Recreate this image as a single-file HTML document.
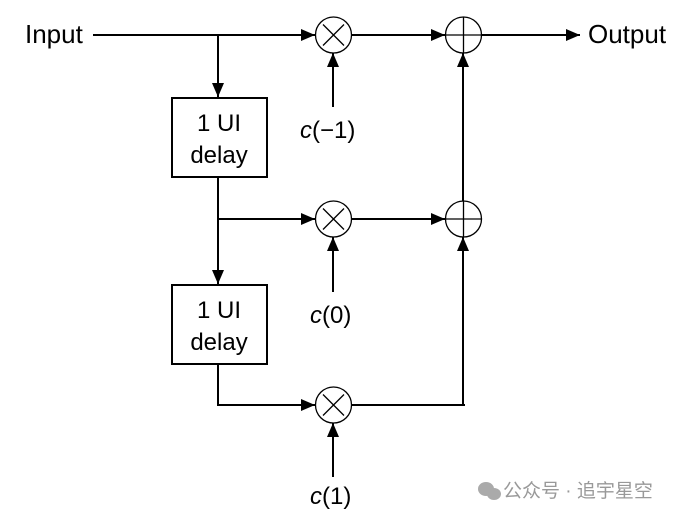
<!DOCTYPE html>
<html><head><meta charset="utf-8"><style>body{margin:0;background:#fff}</style></head><body>
<svg width="675" height="517" xmlns="http://www.w3.org/2000/svg" font-family="Liberation Sans, Arial, sans-serif">
<defs><marker id="b" viewBox="0 0 14 12" markerWidth="14" markerHeight="12" refX="14" refY="6" orient="auto" markerUnits="userSpaceOnUse"><path d="M0,0L14,6L0,12z" fill="#000"/></marker></defs>
<g stroke="#000" stroke-width="2" fill="none">
<line x1="93" y1="35" x2="315" y2="35" marker-end="url(#b)"/>
<line x1="218" y1="35" x2="218" y2="97" marker-end="url(#b)"/>
<line x1="352" y1="35" x2="445" y2="35" marker-end="url(#b)"/>
<line x1="482" y1="35" x2="580" y2="35" marker-end="url(#b)"/>
<line x1="333" y1="107" x2="333" y2="53" marker-end="url(#b)"/>
<rect x="172" y="98" width="95" height="79"/>
<line x1="218" y1="177" x2="218" y2="284" marker-end="url(#b)"/>
<line x1="218" y1="219" x2="315" y2="219" marker-end="url(#b)"/>
<line x1="352" y1="219" x2="445" y2="219" marker-end="url(#b)"/>
<line x1="463" y1="201" x2="463" y2="53" marker-end="url(#b)"/>
<line x1="333" y1="292" x2="333" y2="237" marker-end="url(#b)"/>
<rect x="172" y="285" width="95" height="79"/>
<polyline points="218,364 218,405 315,405" marker-end="url(#b)"/>
<polyline points="352,405 465,405"/>
<line x1="463" y1="405" x2="463" y2="237" marker-end="url(#b)"/>
<line x1="333" y1="477" x2="333" y2="423" marker-end="url(#b)"/>
</g>
<g stroke="#000" stroke-width="1.3" fill="#fff">
<circle cx="333.5" cy="35" r="18"/><circle cx="333.5" cy="219" r="18"/><circle cx="333.5" cy="405" r="18"/>
<circle cx="463.5" cy="35" r="18"/><circle cx="463.5" cy="219" r="18"/>
</g>
<g stroke="#000" stroke-width="1.3">
<path d="M323,24.5L344,45.5M344,24.5L323,45.5"/><path d="M323,208.5L344,229.5M344,208.5L323,229.5"/><path d="M323,394.5L344,415.5M344,394.5L323,415.5"/>
<path d="M446,35H481M463.5,17V53"/><path d="M446,219H481M463.5,201V237"/>
</g>
<g font-size="24" fill="#000">
<text x="25" y="43" font-size="26">Input</text>
<text x="588" y="43" font-size="26">Output</text>
<text x="219" y="131" text-anchor="middle">1 UI</text>
<text x="219" y="163" text-anchor="middle">delay</text>
<text x="219" y="318" text-anchor="middle">1 UI</text>
<text x="219" y="350" text-anchor="middle">delay</text>
<text x="300" y="138"><tspan font-style="italic">c</tspan>(−1)</text>
<text x="310" y="323"><tspan font-style="italic">c</tspan>(0)</text>
<text x="310" y="504"><tspan font-style="italic">c</tspan>(1)</text>
</g>
<g fill="#aaa"><ellipse cx="486" cy="489" rx="8" ry="7"/><ellipse cx="494" cy="494" rx="7" ry="6"/></g>
<text x="503" y="497" font-size="19" fill="#999" font-family="Liberation Sans, Noto Sans CJK SC, sans-serif">公众号 · 追宇星空</text>
</svg>
</body></html>
